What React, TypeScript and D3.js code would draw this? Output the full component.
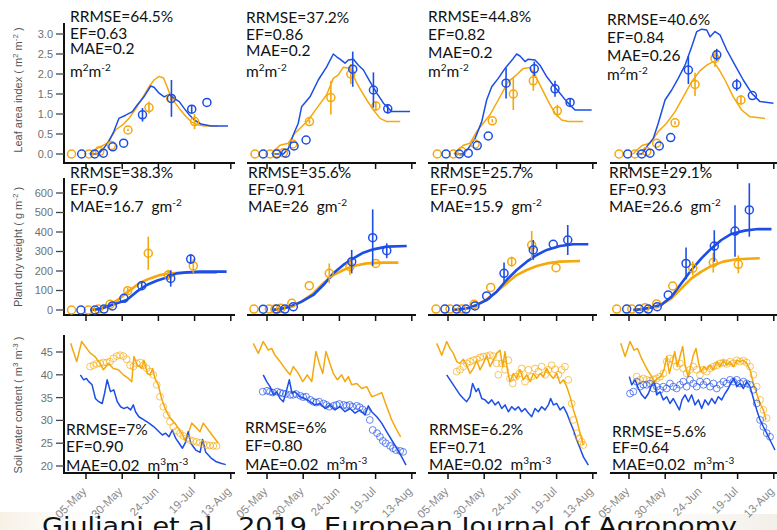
import React from 'react';
import * as d3 from 'd3';

type Pt = [number, number];
type Ob = [number, number, number];

const BLUE = '#1c4ee6';
const ORANGE = '#f5a80c';

const xTickDoy = [125, 150, 175, 200, 225];
const xTickLabels = ['05-May', '30-May', '24-Jun', '19-Jul', '13-Aug'];
const panelLeft = [64, 247, 428, 610];
const panelTick0 = [86, 267, 448, 629];

const laiTicks = [0, 0.5, 1, 1.5, 2, 2.5, 3];
const pdwTicks = [0, 100, 200, 300, 400, 500, 600];
const swcTicks = [20, 25, 30, 35, 40, 45];

const laiRRMSE = ['64.5%', '37.2%', '44.8%', '40.6%'];
const laiEF = ['0.63', '0.86', '0.82', '0.84'];
const laiMAE = ['0.2', '0.2', '0.2', '0.26'];
const pdwRRMSE = ['38.3%', '35.6%', '25.7%', '29.1%'];
const pdwEF = ['0.9', '0.91', '0.95', '0.93'];
const pdwMAE = ['16.7', '26', '15.9', '26.6'];
const swcRRMSE = ['7%', '6%', '6.2%', '5.6%'];
const swcEF = ['0.90', '0.80', '0.71', '0.64'];
const swcMAE = ['0.02', '0.02', '0.02', '0.02'];

// ---------- Leaf area index ----------
const laiObsO1: Ob[] = [[115,0,0],[127,0,0],[134.5,0.06,0],[142.5,0.21,0],[154,0.6,0.03],[168.5,1.16,0.15],[183.5,1.39,0.05],[200,0.81,0.19]];
const laiObsB1: Ob[] = [[122,0,0],[131,0,0],[137,0.02,0],[143.5,0.18,0],[151,0.27,0],[164,0.98,0.17],[184,1.39,0.46],[198,1.12,0.1],[208.5,1.29,0]];
const laiSimB1: Pt[] = [[128,0],[133.5,0],[137.2,0.14],[140.7,0.31],[144.2,0.56],[147.7,0.89],[152.4,0.97],[157,1.06],[160.5,1.23],[165,1.43],[169.7,1.7],[172,1.67],[175.5,1.52],[179,1.43],[182.4,1.49],[185.9,1.39],[189.4,1.31],[192.8,1.14],[196.3,0.98],[199.8,0.85],[204.4,0.75],[211.4,0.7],[223,0.7]];
const laiSimO1: Pt[] = [[127,0],[130.3,0.06],[132.7,0.17],[136.2,0.2],[139.6,0.27],[141.9,0.4],[145.4,0.6],[150,0.72],[154.7,0.89],[159.3,1.13],[164,1.4],[168.5,1.68],[172,1.85],[175.5,1.94],[178.5,1.9],[180.8,1.7],[183.6,1.43],[185.9,1.31],[189.4,1.14],[194,0.94],[197.5,0.81],[202.1,0.73],[206.7,0.7],[216,0.7]];

const laiObsO2: Ob[] = [[116.7,0,0],[127.1,0,0],[131.7,0.02,0],[136.3,0.03,0],[142.8,0.25,0],[154.3,0.81,0.05],[169.1,1.41,0.42],[182.9,2.0,0.25],[200.2,1.2,0.12]];
const laiObsB2: Ob[] = [[122.4,0,0],[131.7,0,0],[137.9,0.02,0],[143.7,0.2,0],[152,0.35,0],[184.2,2.12,0.44],[198.5,1.6,0.44],[208.4,1.13,0.12]];
const laiSimB2: Pt[] = [[130,0],[136.3,0],[139.7,0.14],[143.2,0.48],[146.6,0.77],[148.9,1.18],[154.7,1.43],[160.4,1.85],[166.2,2.18],[170.8,2.5],[173.1,2.43],[175.4,2.37],[178.9,2.27],[181.2,2.35],[184.7,2.37],[188.1,2.22],[191.6,2.1],[196.1,1.81],[200.8,1.52],[205.4,1.27],[211.1,1.06],[223.8,1.06]];
const laiSimO2: Pt[] = [[128,0],[130.5,0.1],[133.9,0.22],[139.7,0.27],[144.3,0.52],[148.9,0.68],[153.5,0.85],[159.3,1.14],[166.2,1.48],[170.8,1.89],[174.3,1.98],[177.7,2.17],[182.3,2.14],[187,1.77],[190.4,1.56],[193.9,1.35],[198.5,1.1],[203.1,0.89],[207.7,0.81],[217,0.81]];

const laiObsO3: Ob[] = [[117.6,0,0],[128.7,0,0],[134.5,0.06,0],[143.7,0.25,0],[155.6,0.83,0.04],[170.1,1.5,0.4],[183.9,1.83,0.25],[200.5,1.08,0.15]];
const laiObsB3: Ob[] = [[123.6,0,0],[132.8,0,0],[139,0.02,0],[145.2,0.21,0],[152.8,0.45,0],[165.1,1.77,0.38],[184.6,2.13,0.18],[198.9,1.63,0.2],[209.3,1.29,0.1]];
const laiSimB3: Pt[] = [[130,0],[135.6,0],[139,0.14],[143.7,0.39],[148.3,0.81],[151.7,1.35],[155.2,1.68],[159.7,1.89],[164.4,2.14],[170.1,2.39],[172.4,2.5],[174.7,2.45],[178.2,2.31],[180.4,2.37],[185.1,2.35],[188.5,2.22],[193.2,1.93],[197.7,1.72],[202.3,1.52],[207,1.31],[212.7,1.1],[224.2,1.1]];
const laiSimO3: Pt[] = [[129,0],[132.1,0.1],[135.6,0.22],[140.2,0.27],[144.8,0.56],[149.4,0.77],[154,0.98],[159.7,1.35],[166.6,1.81],[172.4,1.98],[177,2.14],[181.6,2.16],[185.1,1.98],[189.7,1.64],[194.3,1.31],[198.9,1.02],[203.5,0.85],[208.1,0.81],[218.4,0.81]];

const laiObsO4: Ob[] = [[118.1,0,0],[129.1,0,0],[137.2,0.06,0],[144.1,0.27,0],[156.8,0.78,0.04],[170.6,1.74,0.29],[184.4,2.39,0.21],[202.3,1.35,0.12]];
const laiObsB4: Ob[] = [[124.1,0,0],[133.8,0,0],[139.5,0.02,0],[145.9,0.2,0],[153.8,0.41,0],[166,2.1,0.35],[185.6,2.48,0.15],[199.4,1.73,0.15],[210.2,1.46,0]];
const laiSimB4: Pt[] = [[130,0],[133.8,0],[137.2,0.18],[141.8,0.39],[145.2,0.77],[149.9,1.35],[154.5,1.6],[159,1.89],[163.7,2.22],[168.3,2.68],[171.8,3.06],[175.2,3.12],[178.7,3.1],[181,2.93],[184.4,3.06],[187.8,2.98],[192.5,2.6],[198.2,2.22],[203.9,1.85],[209.7,1.52],[215.5,1.31],[224.7,1.27]];
const laiSimO4: Pt[] = [[128,0],[130.3,0.1],[134.5,0.22],[139.5,0.27],[145.2,0.56],[151,0.77],[156.8,1.06],[162.5,1.43],[168.3,1.81],[174,2.08],[178.7,2.22],[183.2,2.31],[186.7,2.14],[191.3,1.85],[197,1.43],[202.8,1.1],[208.6,0.93],[218.9,0.89]];

// ---------- Plant dry weight ----------
const pdwObsO1: Ob[] = [[115,0,0],[126.6,0,0],[133.5,5,0],[141.6,29,0],[153.8,99,15],[168,291,85],[181.8,180,26],[199.1,226,36]];
const pdwObsB1: Ob[] = [[121.5,0,0],[131.2,0,0],[137.4,5,0],[143.2,21,0],[151.2,60,0],[163.5,125,20],[183.5,162,42],[197.3,261,25]];
const pdwSimB1: Pt[] = [[128,0],[134.7,5],[139.3,17],[146.2,34],[153.1,51],[160,94],[166.9,128],[173.8,150],[180.7,167],[187.6,188],[194.5,193],[203.7,197],[222.1,197]];
const pdwSimO1: Pt[] = [[128,0],[134.7,7],[141.6,26],[148.5,60],[155.4,102],[162.3,140],[169.2,162],[176.1,179],[183,188],[192.2,191],[215.3,191]];

const pdwObsO2: Ob[] = [[116,5,0],[126.6,5,0],[130.5,5,0],[134.5,9,0],[142.1,34,0],[154.2,125,0],[168,188,51],[182.3,222,43],[200.1,239,0]];
const pdwObsB2: Ob[] = [[122.4,4,0],[131.7,5,0],[137.4,5,0],[143.2,17,0],[183.5,248,60],[198,371,145],[207.7,304,38]];
const pdwSimB2: Pt[] = [[128,0],[134,5],[140.9,17],[148.9,43],[157,77],[163.9,128],[170.8,188],[177.7,231],[184.6,265],[191.5,294],[198.4,311],[207.7,325],[221.5,328]];
const pdwSimO2: Pt[] = [[128,0],[134,5],[141.6,17],[148.9,43],[157,85],[163.9,137],[170.8,179],[177.7,205],[184.6,226],[193.9,239],[205.4,243],[215.7,243]];

const pdwObsO3: Ob[] = [[116.7,5,0],[126.4,5,0],[134.5,5,0],[143,29,0],[154.5,116,0],[169,248,26],[182.8,333,72],[199.6,217,0]];
const pdwObsB3: Ob[] = [[122.9,5,0],[131,5,0],[137.4,5,0],[143.6,21,0],[151.7,72,0],[163.7,188,55],[183.9,308,51],[197.7,337,0],[207.7,359,77]];
const pdwSimB3: Pt[] = [[128,0],[135,5],[140,12],[144.8,26],[151.7,51],[158.6,94],[165.5,154],[172.4,205],[179.4,248],[186.3,282],[193.2,308],[202.3,328],[211.5,337],[221.9,337]];
const pdwSimO3: Pt[] = [[128,0],[135,5],[140,12],[144.8,26],[151.7,55],[158.6,94],[165.5,137],[172.4,179],[179.4,205],[186.3,226],[193.2,239],[202.3,248],[216.2,251]];

const pdwObsO4: Ob[] = [[116.5,5,0],[126.9,5,0],[136.1,12,0],[144.1,31,0],[155.2,123,0],[169,214,36],[183.2,243,51],[200.5,234,46]];
const pdwObsB4: Ob[] = [[123.4,5,0],[132.1,5,0],[138.3,5,0],[144.5,17,0],[152.1,77,0],[164.4,239,81],[183.9,328,81],[198.2,405,132],[208.1,513,137]];
const pdwSimB4: Pt[] = [[128,0],[135,5],[141,14],[147.1,26],[154.3,68],[161.2,137],[168.1,205],[175,265],[181.9,316],[188.8,359],[195.7,390],[204.9,407],[214.1,415],[223.4,415]];
const pdwSimO4: Pt[] = [[128,0],[135,5],[141,14],[147.1,26],[154.3,60],[161.2,111],[168.1,162],[175,197],[181.9,226],[190.1,248],[199.3,260],[215.3,265]];

// ---------- Soil water content ----------
const swcSimO1: Pt[] = [[114.4,46.9],[118.6,42.9],[122,47.3],[125.5,45.8],[127.8,44.8],[131.2,44],[134.7,42.5],[137,41.1],[140.5,42.5],[143.9,41.4],[147.4,41.1],[150.8,40],[154.3,39.2],[156.6,38.5],[158.1,44],[160.4,42.1],[163.5,41.4],[165,43.2],[167.3,40.3],[169.2,40],[171,41.4],[172.6,39.2],[174.9,37.8],[177.2,34.8],[179.5,32.7],[181.8,31.2],[184.1,30.1],[186.4,29.4],[188.7,28.3],[191.1,27.2],[193.4,25.7],[195.7,27.2],[198,29.4],[201.5,28.3],[203.7,27.5],[206,29.4],[209.5,27.9],[213,26.4],[216.4,25]];
const swcObsO1: Pt[] = [[127.8,41.8],[130.1,42.1],[132.4,42.4],[134.7,42.5],[137,42.7],[139.3,42.7],[141.6,42.9],[143.9,43.6],[146.2,44.1],[148.5,44.3],[150.8,44.1],[153.1,43.4],[155.4,42.1],[157.7,41.8],[160,42.5],[162.3,42.7],[164.6,42.1],[166.9,41.4],[169.2,40.7],[171.5,40],[173.8,37.8],[176.1,35.2],[178.4,33],[180.7,31.2],[183,29.7],[185.3,28.6],[187.6,27.7],[189.9,27.2],[192.2,26.6],[194.5,26.1],[196.8,25.7],[199.1,25.5],[201.4,25.3],[203.7,25.1],[206,24.8],[208.3,24.6],[210.6,24.5],[212.9,24.4],[215.2,24.4]];
const swcSimB1: Pt[] = [[121.1,40],[123.4,38.9],[125.3,39.2],[126.9,38.5],[129.2,37.8],[131.5,34.8],[133.8,34.1],[136.2,33.7],[137.8,35.9],[139.6,38.9],[141.9,36.3],[144.2,36.7],[146.6,34.1],[148.9,33],[151.2,32.6],[153.5,32.9],[155.8,32.3],[157.7,33.4],[159.2,31.9],[161.5,30.8],[165,30.1],[168.5,29.4],[171.9,28.6],[175.4,27.5],[177.7,26.8],[180,27.2],[182.3,26.4],[184.6,27.9],[186.9,26.1],[189.3,25],[191.6,23.9],[193.9,25.3],[195.5,27.5],[197.4,25],[200.8,23.5],[203.8,23],[205.5,25.8],[207.7,23],[211.2,21.8],[214.6,21],[218.1,20.6],[221.5,20.3]];

const swcSimO2: Pt[] = [[115.5,46.9],[119,44.7],[122.4,47.3],[125.9,45.4],[128.2,45.8],[130.5,44.3],[134,42.9],[137.4,41.4],[140.9,40],[143.2,41.8],[146.6,40.3],[149.7,38.5],[152.8,40],[155.9,38.5],[158.8,45.1],[161.1,42.5],[163.5,40.3],[165.7,45.1],[168,42.9],[170.8,40.3],[173.6,38.9],[176.6,40],[178.9,38.5],[181.2,39.6],[183.5,37.8],[187,38.1],[190.4,37],[193.9,37.4],[197.3,35.2],[200.8,35.6],[204.2,36.1],[207.7,33],[211.1,30.1],[214.6,27.9],[217.3,26.4]];
const swcSimB2: Pt[] = [[122.4,40],[124.8,38.5],[127.1,37.4],[129.4,35.6],[131.7,36.3],[134,34.8],[136.3,34.1],[138.6,36.7],[140.4,38.9],[142.3,35.9],[144.3,36.3],[147.8,35.2],[151.2,34.8],[154.7,34.1],[158.1,33.4],[161.6,33.7],[165.1,32.6],[168.5,33.4],[172,32.3],[175.4,33],[178.9,31.9],[182.3,32.6],[185.8,31.6],[189.2,32.3],[192.7,31.2],[195,33.2],[197.3,31.9],[200.8,30.8],[204.2,29.4],[207.7,27.5],[211.1,25.7],[214.6,23.9],[218,22],[221,20.2]];
const swcObsB2: Pt[] = [[122,36.3],[125,36.5],[127,36.3],[129,36.1],[132,36.3],[134,36.1],[136,35.9],[138,35.8],[141,35.6],[143,35.6],[145,35.8],[148,35.4],[150,35.1],[152,35.2],[155,34.5],[157,34.1],[159,33.9],[161,34.1],[164,33.7],[166,33.4],[168,33],[171,33.2],[173,33.4],[175,33.6],[178,33.4],[180,33.2],[182,33.4],[184,33],[187,33.2],[189,32.9],[191,32.4],[194,31.9],[196,30.1],[198,27.9],[201,27.2],[203,26.4],[205,25.5],[207,25],[210,24.4],[212,23.9],[214,23.5],[217,23.3],[219,23.1]];

const swcSimO3: Pt[] = [[117.2,46.9],[120.7,44.3],[124.1,47.3],[126.4,45.8],[128.7,44.7],[131,42.9],[133.3,42.5],[135.6,43.4],[137.9,42.1],[140.2,40.3],[142.5,41.4],[144.8,43.2],[147.1,41.1],[149.4,42.5],[151.7,44.3],[154,41.8],[156.3,43.2],[158.6,44.7],[160.9,45.4],[162.8,41.8],[164.4,45.1],[166,41.1],[167.8,38.5],[170.1,40.3],[172.4,39.2],[174.7,41.1],[177,38.9],[179.4,40],[181.7,38.5],[184,40.3],[186.3,39.2],[188.6,40.3],[190.9,39.6],[193.2,41.4],[195.5,40],[197.8,39.2],[200.1,40.3],[202.4,38.1],[204.7,38.9],[207,37.4],[209.3,35.2],[211.6,32.3],[213.9,30.1],[216.2,27.2],[218.5,24.6]];
const swcObsO3: Pt[] = [[131,40.7],[133.3,41.1],[135.6,41.8],[137.9,42.5],[140.2,42.9],[142.5,43.2],[144.8,43.4],[147.1,43.8],[149.4,44],[151.7,44.1],[154,44.3],[156.3,44.1],[158.6,42.5],[159.8,40],[162.1,42.5],[164.4,41.1],[166.7,43.2],[167.8,39.2],[169.7,38.1],[172,39.6],[174.3,40.3],[175.9,41.4],[178.2,38.5],[180.5,41.1],[182.8,39.6],[185.1,41.4],[187.4,40.7],[189.7,41.8],[192,40],[194.3,41.1],[196.6,42.1],[198.9,41.2],[201.2,40],[203.5,41.1],[205.8,41.8],[208.1,38.9],[210.4,33.7],[211.6,30.1],[213.9,27.2],[215.7,26.1],[217.3,25.3],[218.5,24.6]];
const swcSimB3: Pt[] = [[124.1,40],[126.4,38.9],[128.7,37.8],[131,36.7],[133.3,35.6],[135.6,34.8],[137.9,34.1],[140.2,35.2],[142,38.1],[144.4,36.3],[146,37],[148.3,34.8],[150.6,34.5],[152.9,33.7],[155.2,34.5],[157.5,33.4],[159.8,34.1],[162.1,32.6],[164.4,33.4],[166.7,31.9],[169,33],[171.3,32.3],[173.6,33],[175.9,31.9],[178.2,32.6],[180.5,31.6],[182.8,30.8],[185.1,32.6],[187.4,31.9],[189.7,33],[192,32.3],[194.3,33.4],[195.9,34.8],[197.8,33.4],[200.1,33.7],[202.4,32.3],[204.7,33],[207,31.6],[209.3,29.7],[211.6,27.9],[213.9,25.7],[216.2,23.9],[218.5,22],[221.9,20.2]];

const swcSimO4: Pt[] = [[119.3,46.9],[122.3,44],[125.7,47.3],[128.5,45.4],[130.8,45.8],[133.1,44],[135.4,42.5],[137.7,41.1],[140,40],[142.3,38.5],[144.6,39.2],[146.9,39.6],[149.2,41.1],[151,44],[152.9,40.3],[154.7,42.5],[156.6,45.1],[158.4,41.8],[160.2,44],[162.1,46.2],[163.9,41.8],[165.8,39.6],[167.6,41.8],[169.4,44.3],[171.3,45.8],[173.1,42.5],[174.9,40.7],[176.8,41.8],[178.6,41.1],[180.9,42.1],[183.3,41.1],[185.6,42.9],[187.9,41.8],[190.2,43.2],[192.5,42.1],[194.8,42.9],[197.1,41.8],[199.4,43.2],[201.7,42.9],[204,43.2],[206.3,42.5],[208.6,41.1],[210.9,38.1],[213.2,35.9],[215.5,33.7],[217.8,32.3],[219.6,30.1]];
const swcObsO4: Pt[] = [[130.3,39.6],[132.6,38.9],[134.9,39.2],[137.2,38.9],[139.5,38.7],[141.8,39],[144.1,39.2],[146.4,39.6],[148.7,40.3],[151,42.9],[153.3,43.6],[155.6,43.2],[157.9,41.8],[160.2,42.5],[162.5,41.4],[164.8,40.3],[167.1,41.1],[169.4,41.8],[171.7,41.1],[174,40],[176.4,41.1],[178.7,40.7],[181,41.4],[183.3,41.8],[185.6,42.1],[187.9,42.5],[190.2,42.7],[192.5,42.4],[194.8,42.9],[197.1,42.5],[199.4,43.2],[201.7,42.9],[204,43.1],[206.3,42.7],[208.6,41.8],[210.9,40],[213.2,37.4],[215.5,34.5],[217.8,32.3],[220.1,30.5]];
const swcSimB4: Pt[] = [[125.2,39.6],[126.9,37.8],[129.2,38.9],[131.5,37],[133.8,35.6],[136.1,34.8],[138.4,35.9],[140.7,37.8],[142.5,38.5],[144.1,35.6],[146.4,36.3],[148.7,34.5],[151,35.2],[153.3,33.7],[155.6,34.8],[157.9,33.4],[159.8,32.3],[161.6,34.5],[163.7,35.6],[166,34.1],[168.3,35.6],[170.6,33.4],[172.9,34.5],[175.2,32.6],[177.5,34.5],[179.8,33.4],[182.1,34.8],[184.4,33.7],[186.7,35.2],[189,34.5],[191.3,35.9],[193.6,37],[195.9,38.5],[197.5,39.2],[199.4,37.4],[201.7,38.1],[204,37],[206.3,38.5],[208.6,37.4],[210.9,34.8],[213.2,32.3],[215.5,30.1],[217.8,28.6],[220.1,27.2],[222.4,25.7],[225.8,23.5]];
const swcObsB4: Pt[] = [[125.7,35.9],[128,36.3],[130.3,38.5],[132.6,37.4],[134.9,37.8],[137.2,37.8],[139.5,38.1],[141.8,37],[144.1,37.4],[146.4,36.7],[148.7,37.4],[151,37],[153.3,38.1],[155.6,37.4],[157.9,37],[160.2,37.8],[162.5,38.5],[164.8,37.4],[167.1,38.9],[169.4,38.1],[171.7,37.4],[174,38.5],[176.4,37.8],[178.7,38.5],[181,37.4],[183.3,38.1],[185.6,37],[187.9,37.8],[190.2,38.5],[192.5,38.1],[194.8,38.9],[197.1,38.5],[199.4,38.9],[201.7,38.1],[204,38.5],[206.3,38.1],[208.6,37.8],[210.9,36.7],[213.2,33.7],[215.5,30.1],[217.8,28.6],[220.1,27.2],[222.4,26.4]];

type RowCfg = {
  dom: [number, number]; rng: [number, number]; axisY: number; top: number;
  ticks: number[]; fmt: (v: number) => string;
  simB: Pt[][]; simO: Pt[][]; obsB: (Ob[] | Pt[])[]; obsO: (Ob[] | Pt[])[];
  lineW: number; r: number; dense: boolean;
};

const rows: RowCfg[] = [
  { dom: [0, 3], rng: [154, 34], axisY: 163, top: 23, ticks: laiTicks, fmt: v => v.toFixed(1),
    simB: [laiSimB1, laiSimB2, laiSimB3, laiSimB4], simO: [laiSimO1, laiSimO2, laiSimO3, laiSimO4],
    obsB: [laiObsB1, laiObsB2, laiObsB3, laiObsB4], obsO: [laiObsO1, laiObsO2, laiObsO3, laiObsO4],
    lineW: 1.5, r: 4, dense: false },
  { dom: [0, 600], rng: [310, 193], axisY: 315, top: 178, ticks: pdwTicks, fmt: v => String(v),
    simB: [pdwSimB1, pdwSimB2, pdwSimB3, pdwSimB4], simO: [pdwSimO1, pdwSimO2, pdwSimO3, pdwSimO4],
    obsB: [pdwObsB1, pdwObsB2, pdwObsB3, pdwObsB4], obsO: [pdwObsO1, pdwObsO2, pdwObsO3, pdwObsO4],
    lineW: 2.6, r: 4, dense: false },
  { dom: [20, 45], rng: [466, 352], axisY: 473, top: 335, ticks: swcTicks, fmt: v => String(v),
    simB: [swcSimB1, swcSimB2, swcSimB3, swcSimB4], simO: [swcSimO1, swcSimO2, swcSimO3, swcSimO4],
    obsB: [[], swcObsB2, [], swcObsB4], obsO: [swcObsO1, [], swcObsO3, swcObsO4],
    lineW: 1.5, r: 3.4, dense: true },
];

const STAT_FONT = 'Lato, "Open Sans", sans-serif';
const AXIS_FONT = '"Liberation Sans", Arial, sans-serif';

function sup(t: string, size = 10, up = 6) {
  return <tspan baselineShift={up} fontSize={size}>{t}</tspan>;
}

const statX = [[70, 246, 428, 607], [70, 248, 430, 609], [66, 245, 429, 612]];
const statY = [
  [[22, 39, 54, 77], [23, 40, 56, 77], [22, 40, 58, 77], [25, 43, 61, 80]],
  [[178, 195, 212], [178, 195, 212], [178, 195, 212], [178, 195, 212]],
  [[435, 452, 471], [433, 451, 470], [435, 453, 470], [437, 453, 470]],
];

function Stats({ row, p }: { row: number; p: number }) {
  const x = statX[row][p];
  const ys = statY[row][p];
  const common = { fontFamily: STAT_FONT, fontSize: 15.5, fill: '#111' };
  if (row === 0) {
    return <g {...common}>
      <text x={x} y={ys[0]}>RRMSE={laiRRMSE[p]}</text>
      <text x={x} y={ys[1]}>EF={laiEF[p]}</text>
      <text x={x} y={ys[2]}>MAE={laiMAE[p]}</text>
      <text x={x} y={ys[3]}>m{sup('2')}m{sup('-2')}</text>
    </g>;
  }
  if (row === 1) {
    return <g {...common}>
      <text x={x} y={ys[0]}>RRMSE={pdwRRMSE[p]}</text>
      <text x={x} y={ys[1]}>EF={pdwEF[p]}</text>
      <text x={x} y={ys[2]}>{`MAE=${pdwMAE[p]}\u00A0 gm`}{sup('-2')}</text>
    </g>;
  }
  return <g {...common}>
    <text x={x} y={ys[0]}>RRMSE={swcRRMSE[p]}</text>
    <text x={x} y={ys[1]}>EF={swcEF[p]}</text>
    <text x={x} y={ys[2]}>{`MAE=${swcMAE[p]}\u00A0 m`}{sup('3')}m{sup('-3')}</text>
  </g>;
}

function Panel({ row, p }: { row: number; p: number }) {
  const cfg = rows[row];
  const left = panelLeft[p];
  const t0 = panelTick0[p];
  const x = d3.scaleLinear().domain([125, 225]).range([t0, t0 + 144.8]);
  const y = d3.scaleLinear().domain(cfg.dom).range(cfg.rng);
  const line = d3.line<Pt>().x(d => x(d[0])).y(d => y(d[1])).curve(d3.curveLinear);
  const axisEnd = t0 + 149;

  const drawObs = (data: (Ob | Pt)[], color: string) => data.map((d, i) => {
    const cx = x(d[0]);
    const cy = y(d[1]);
    const err = (d as Ob)[2] || 0;
    return <g key={i}>
      {err > 0 && <line x1={cx} x2={cx} y1={y(d[1] - err)} y2={y(d[1] + err)} stroke={color} strokeWidth={1.6} />}
      <circle cx={cx} cy={cy} r={cfg.r} fill="none" stroke={color}
        strokeWidth={cfg.dense ? 0.9 : 1.5} strokeOpacity={cfg.dense ? 0.75 : 1} />
    </g>;
  });

  return <g>
    <line x1={left} x2={axisEnd} y1={cfg.axisY} y2={cfg.axisY} stroke="#111" strokeWidth={2} />
    {xTickDoy.map((t, i) => <line key={i} x1={x(t)} x2={x(t)} y1={cfg.axisY} y2={cfg.axisY + 6} stroke="#111" strokeWidth={1.5} />)}
    {row === 2 && xTickDoy.map((t, i) => (
      <text key={'l' + i} transform={`translate(${x(t) + 1},${cfg.axisY + 19}) rotate(-45)`} textAnchor="end"
        fontFamily={AXIS_FONT} fontSize={11.5} fill="#8a8a8a">{xTickLabels[i]}</text>
    ))}
    {p === 0 && <>
      <line x1={left} x2={left} y1={cfg.top} y2={cfg.axisY + 1} stroke="#111" strokeWidth={2} />
      {cfg.ticks.map((t, i) => <g key={i}>
        <line x1={left - 8} x2={left} y1={y(t)} y2={y(t)} stroke="#444" strokeWidth={1.3} />
        <text x={left - 11} y={y(t)} dy="0.36em" textAnchor="end" fontFamily={AXIS_FONT} fontSize={11} fill="#707070">{cfg.fmt(t)}</text>
      </g>)}
    </>}
    <path d={line(cfg.simO[p]) || ''} fill="none" stroke={ORANGE} strokeWidth={cfg.lineW} strokeLinejoin="round" />
    <path d={line(cfg.simB[p]) || ''} fill="none" stroke={BLUE} strokeWidth={cfg.lineW} strokeLinejoin="round" />
    {drawObs(cfg.obsO[p] as (Ob | Pt)[], ORANGE)}
    {drawObs(cfg.obsB[p] as (Ob | Pt)[], BLUE)}
    <Stats row={row} p={p} />
  </g>;
}

function YTitle({ cx, cy, children }: { cx: number; cy: number; children: React.ReactNode }) {
  return <text transform={`translate(${cx},${cy}) rotate(-90)`} textAnchor="middle"
    fontFamily={AXIS_FONT} fontSize={11} fill="#555">{children}</text>;
}

export default function App() {
  return (
    <svg width={777} height={530} viewBox="0 0 777 530"
      style={{ position: 'fixed', left: 0, top: 0, background: '#fff' }}>
      <defs>
        <linearGradient id="bgL" x1="0" x2="1" y1="0" y2="0">
          <stop offset="0" stopColor="#f6efe2" stopOpacity={0.9} />
          <stop offset="1" stopColor="#ffffff" stopOpacity={0} />
        </linearGradient>
        <linearGradient id="bgR" x1="0" x2="1" y1="0" y2="0">
          <stop offset="0" stopColor="#ffffff" stopOpacity={0} />
          <stop offset="1" stopColor="#f1ede6" stopOpacity={0.9} />
        </linearGradient>
      </defs>
      <rect x={0} y={0} width={777} height={530} fill="#fff" />
      <rect x={0} y={512} width={130} height={18} fill="url(#bgL)" />
      <rect x={560} y={514} width={217} height={16} fill="url(#bgR)" />
      {[0, 1, 2].map(r => [0, 1, 2, 3].map(p => <Panel key={r + '-' + p} row={r} p={p} />))}
      <YTitle cx={22} cy={90}>Leaf area index ( m{sup('2', 8, 4)} m{sup('-2', 8, 4)} )</YTitle>
      <YTitle cx={22} cy={247}>Plant dry weight ( g m{sup('-2', 8, 4)} )</YTitle>
      <YTitle cx={22} cy={405}>Soil water content ( m{sup('3', 8, 4)} m{sup('-3', 8, 4)} )</YTitle>
      <text x={42} y={534} fontFamily='"DejaVu Sans", Verdana, sans-serif' fontSize={23} fill="#111"
        textLength={695} lengthAdjust="spacingAndGlyphs">Giuliani et al., 2019, European Journal of Agronomy</text>
    </svg>
  );
}
